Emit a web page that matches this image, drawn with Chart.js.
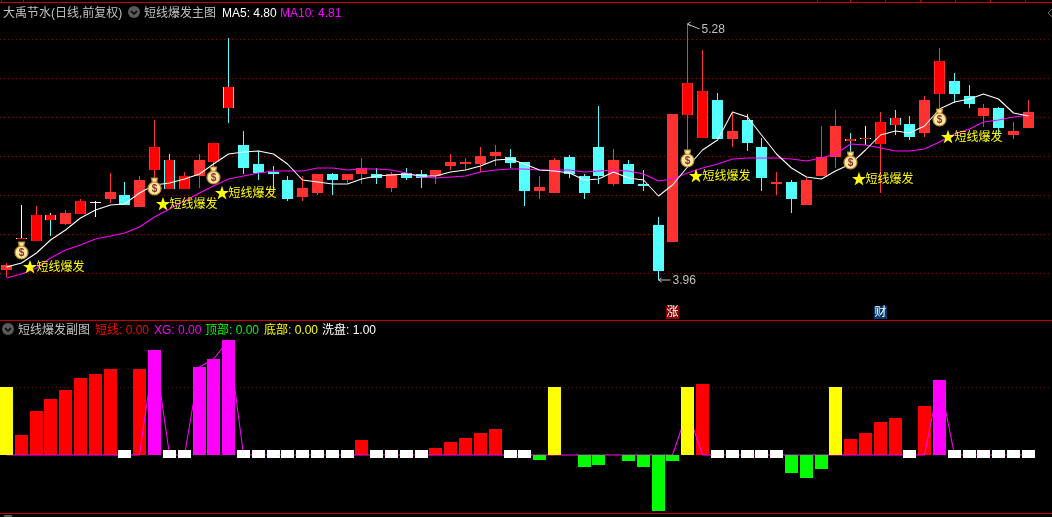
<!DOCTYPE html>
<html>
<head>
<meta charset="utf-8">
<title>短线爆发</title>
<script src="https://cdn.jsdelivr.net/npm/chart.js@4"></script>
<style>
    html, body { margin: 0; padding: 0; background: #000; overflow: hidden; }
    #page { position: relative; width: 1052px; height: 517px; overflow: hidden; font: 12px/14px "Liberation Sans", "Noto Sans CJK SC", sans-serif; }
    canvas { position: absolute; left: 0; }
    #mainChart { top: 0; }
    #subChart { top: 322px; }
    .rule { position: absolute; left: 0; width: 1052px; height: 1px; background: #c00000; }
    .mark { position: absolute; top: 0; width: 1px; height: 2px; background: #c00000; }
    .txt { position: absolute; white-space: nowrap; }
    svg { position: absolute; }
</style>
</head>
<body>
<div id="page">
    <canvas id="mainChart" width="1052" height="320"></canvas>
    <canvas id="subChart" width="1052" height="190"></canvas>
    <div class="rule" style="top:2px"></div>
    <div class="rule" style="top:320px"></div>
    <div class="rule" style="top:513px"></div>

    <span class="txt" style="left:3px;top:6px;color:#c0c0c0">大禹节水(日线,前复权)</span>
    <svg style="left:127px;top:5px" width="14" height="14"><circle cx="7" cy="7" r="6" fill="#5a5a5a"/><path d="M4 6 L7 9 L10 6" stroke="#000" stroke-width="1.5" fill="none"/></svg>
    <span class="txt" style="left:144px;top:6px;color:#c0c0c0">短线爆发主图</span>
    <span class="txt" style="left:222px;top:6px;color:#fff">MA5: 4.80</span>
    <span class="txt" style="left:280px;top:6px;color:#f0f">MA10: 4.81</span>

    <svg style="left:1px;top:322px" width="14" height="14"><circle cx="7" cy="7" r="6" fill="#5a5a5a"/><path d="M4 6 L7 9 L10 6" stroke="#000" stroke-width="1.5" fill="none"/></svg>
    <span class="txt" style="left:18px;top:323px;color:#c0c0c0">短线爆发副图</span>
    <span class="txt" style="left:95px;top:323px;color:#f00">短线: 0.00</span>
    <span class="txt" style="left:154px;top:323px;color:#f0f">XG: 0.00</span>
    <span class="txt" style="left:205px;top:323px;color:#0f0">顶部: 0.00</span>
    <span class="txt" style="left:264px;top:323px;color:#ff0">底部: 0.00</span>
    <span class="txt" style="left:322px;top:323px;color:#fff">洗盘: 1.00</span>

    <svg style="left:1046px;top:8px" width="6" height="10"><path d="M6 1 L2 5 L6 9" stroke="#666" fill="none"/></svg>
    <svg style="left:4px;top:515px" width="10" height="2"><rect width="8" height="2" fill="#5a5a5a"/></svg>
</div>

<script>
// candles
const openPrice = [
    4.015, 4.17, 4.16, 4.295, 4.25, 4.30, 4.36, 4.38, 4.40, 4.335,
    4.53, 4.58, 4.43, 4.495, 4.57, 4.955, 4.655, 4.56, 4.52, 4.475,
    4.39, 4.41, 4.505, 4.475, 4.505, 4.505, 4.435, 4.51, 4.505, 4.495,
    4.55, 4.56, 4.56, 4.60, 4.595, 4.57, 4.42, 4.41, 4.595, 4.495,
    4.645, 4.455, 4.56, 4.455, 4.245, 4.155, 4.81, 4.695, 4.89, 4.69,
    4.785, 4.645, 4.455, 4.465, 4.35, 4.495, 4.595, 4.69, 4.69, 4.66,
    4.795, 4.765, 4.72, 4.92, 4.985, 4.91, 4.805, 4.845, 4.71, 4.745
];
const closePrice = [
    4.04, 4.17, 4.295, 4.27, 4.305, 4.37, 4.36, 4.415, 4.35, 4.475,
    4.645, 4.43, 4.495, 4.58, 4.665, 4.845, 4.54, 4.51, 4.505, 4.38,
    4.435, 4.505, 4.475, 4.505, 4.54, 4.485, 4.505, 4.485, 4.485, 4.53,
    4.57, 4.57, 4.60, 4.62, 4.565, 4.42, 4.44, 4.58, 4.505, 4.41,
    4.495, 4.58, 4.455, 4.445, 4.01, 4.815, 4.975, 4.935, 4.69, 4.73,
    4.665, 4.485, 4.465, 4.38, 4.475, 4.595, 4.755, 4.675, 4.69, 4.775,
    4.76, 4.70, 4.89, 5.09, 4.92, 4.87, 4.845, 4.745, 4.73, 4.825
];
const highPrice = [
    4.05, 4.35, 4.34, 4.305, 4.32, 4.38, 4.37, 4.51, 4.465, 4.495,
    4.785, 4.61, 4.52, 4.61, 4.665, 5.21, 4.73, 4.625, 4.55, 4.495,
    4.495, 4.505, 4.51, 4.505, 4.59, 4.54, 4.52, 4.54, 4.53, 4.53,
    4.61, 4.59, 4.645, 4.655, 4.635, 4.57, 4.495, 4.59, 4.605, 4.505,
    4.86, 4.635, 4.58, 4.53, 4.285, 4.815, 5.28, 5.145, 4.925, 4.82,
    4.815, 4.695, 4.52, 4.475, 4.485, 4.755, 4.835, 4.72, 4.755, 4.825,
    4.835, 4.805, 4.91, 5.155, 5.03, 4.965, 4.87, 4.85, 4.775, 4.89
];
const lowPrice = [
    3.975, 4.17, 4.16, 4.19, 4.245, 4.30, 4.285, 4.36, 4.35, 4.335,
    4.475, 4.43, 4.43, 4.435, 4.53, 4.77, 4.505, 4.475, 4.42, 4.37,
    4.37, 4.40, 4.40, 4.46, 4.455, 4.455, 4.415, 4.475, 4.435, 4.455,
    4.53, 4.53, 4.52, 4.55, 4.54, 4.34, 4.38, 4.41, 4.485, 4.38,
    4.455, 4.445, 4.455, 4.42, 3.96, 4.155, 4.63, 4.695, 4.69, 4.645,
    4.625, 4.42, 4.40, 4.305, 4.35, 4.495, 4.54, 4.62, 4.655, 4.41,
    4.71, 4.68, 4.70, 4.845, 4.875, 4.845, 4.75, 4.71, 4.69, 4.745
];
const ma5 = [
    4.029, 4.051, 4.103, 4.166, 4.218, 4.283, 4.324, 4.346, 4.355, 4.410,
    4.449, 4.461, 4.484, 4.506, 4.561, 4.609, 4.619, 4.626, 4.612, 4.561,
    4.475, 4.467, 4.458, 4.458, 4.484, 4.497, 4.504, 4.506, 4.497, 4.499,
    4.516, 4.527, 4.547, 4.581, 4.587, 4.557, 4.527, 4.525, 4.513, 4.475,
    4.484, 4.516, 4.487, 4.475, 4.396, 4.453, 4.544, 4.633, 4.684, 4.828,
    4.801, 4.707, 4.609, 4.539, 4.492, 4.479, 4.521, 4.561, 4.630, 4.707,
    4.729, 4.719, 4.753, 4.844, 4.878, 4.895, 4.921, 4.895, 4.822, 4.804
];
const ma10 = [
    3.974, 3.991, 4.021, 4.077, 4.115, 4.141, 4.170, 4.190, 4.206, 4.235,
    4.286, 4.329, 4.367, 4.407, 4.444, 4.480, 4.497, 4.515, 4.525, 4.525,
    4.525, 4.539, 4.539, 4.527, 4.535, 4.535, 4.527, 4.515, 4.492, 4.489,
    4.494, 4.499, 4.516, 4.530, 4.535, 4.535, 4.527, 4.527, 4.527, 4.520,
    4.525, 4.530, 4.523, 4.506, 4.473, 4.484, 4.515, 4.539, 4.561, 4.585,
    4.592, 4.592, 4.592, 4.587, 4.576, 4.588, 4.609, 4.660, 4.655, 4.640,
    4.628, 4.628, 4.636, 4.672, 4.715, 4.741, 4.774, 4.787, 4.801, 4.810
];
const gridPrices = [5.2, 5.0, 4.8, 4.6, 4.4, 4.2, 4.0];

// sessions where the main picture paints the body pure red
const redDays = [1, 2, 3, 5, 10, 11, 12, 14, 15, 46, 47, 57, 58, 59, 60, 63];
// signals: money bag and star label
const bagDays = [1, 10, 14, 46, 57, 63];
const bagPrices = [4.115, 4.444, 4.50, 4.592, 4.581, 4.801];
const starPrices = [4.029, 4.353, 4.41, 4.496, 4.484, 4.696];
const starGlyph = "★";
const starLabel = "短线爆发";
// corner badges
const badgeDays = [45, 59];
const badgeLabels = ["涨", "财"];
const badgeColors = ["#8a0000", "#003a70"];

// lower panel
const N = null;
const shortLine = [
    N, 29, 64, 82, 95, 113, 119, 126, N, 126,
    N, N, N, N, N, N, N, N, N, N,
    N, N, N, N, 22, N, N, N, N, 11,
    19, 25, 32, 38, N, N, N, N, N, N,
    N, N, N, N, N, N, N, 105, N, N,
    N, N, N, N, N, N, N, 23, 32, 48,
    55, N, 72, N, N, N, N, N, N, N
];
const xgBars = [
    N, N, N, N, N, N, N, N, N, N,
    154, N, N, 130, 141, 169, N, N, N, N,
    N, N, N, N, N, N, N, N, N, N,
    N, N, N, N, N, N, N, N, N, N,
    N, N, N, N, N, N, N, N, N, N,
    N, N, N, N, N, N, N, N, N, N,
    N, N, N, 111, N, N, N, N, N, N
];
const bottomBars = [
    100, N, N, N, N, N, N, N, N, N,
    N, N, N, N, N, N, N, N, N, N,
    N, N, N, N, N, N, N, N, N, N,
    N, N, N, N, N, N, N, 100, N, N,
    N, N, N, N, N, N, 100, N, N, N,
    N, N, N, N, N, N, 100, N, N, N,
    N, N, N, N, N, N, N, N, N, N
];
const topBars = [
    N, N, N, N, N, N, N, N, N, N,
    N, N, N, N, N, N, N, N, N, N,
    N, N, N, N, N, N, N, N, N, N,
    N, N, N, N, N, N, -7, N, N, -17,
    -15, N, -9, -17, -83, -9, N, N, N, N,
    N, N, N, -27, -34, -21, N, N, N, N,
    N, N, N, N, N, N, N, N, N, N
];
const xgLine = [
    0, 0, 0, 0, 0, 0, 0, 0, 0, 0,
    154, 0, 0, 130, 141, 169, 0, 0, 0, 0,
    0, 0, 0, 0, 0, 0, 0, 0, 0, 0,
    0, 0, 0, 0, 0, 0, 0, 0, 0, 0,
    0, 0, 0, 0, 0, 0, 65, 0, 0, 0,
    0, 0, 0, 0, 0, 0, 0, 0, 0, 0,
    0, 0, 0, 111, 0, 0, 0, 0, 0, 0
];
const washDays = [8, 11, 12, 16, 17, 18, 19, 20, 21, 22, 23, 25, 26, 27, 28, 34, 35, 48, 49, 50, 51, 52, 61, 64, 65, 66, 67, 68, 69];
const washBand = [-5, 7];
const subGrid = [100];

const topMarks = [1, 23, 817, 850, 885, 920, 955, 990, 1025];

const UP = "#ff3232", DOWN = "#54ffff", DOJI = "#ffffff", SIGNAL = "#ff0000";
const FONT = '12px "Liberation Sans", "Noto Sans CJK SC", sans-serif';
const sessions = openPrice.map((_, i) => i);

topMarks.forEach((x) => {
    const el = document.createElement("div");
    el.className = "mark";
    el.style.left = x + "px";
    document.getElementById("page").appendChild(el);
});

function candleColor(i) {
    if (openPrice[i] === closePrice[i]) return DOJI;
    return closePrice[i] > openPrice[i] ? UP : DOWN;
}

// keeps candles on whole pixels like the terminal does
const snapX = (scale) => {
    const base = Object.getPrototypeOf(scale).getPixelForValue;
    scale.getPixelForValue = function (v) { return Math.floor(base.call(this, v)) + 0.5; };
};
const snapY = (scale) => {
    const base = Object.getPrototypeOf(scale).getPixelForValue;
    scale.getPixelForValue = function (v) { return Math.round(base.call(this, v)); };
};

function xAxis() {
    return { type: "linear", display: false, offset: false, min: -0.4389, max: 70.594, afterUpdate: snapX };
}

function yAxis(min, max, ticks, color) {
    return {
        min,
        max,
        afterBuildTicks: (scale) => { scale.ticks = ticks.map((value) => ({ value })); },
        afterUpdate: snapY,
        ticks: { display: false },
        grid: { color, lineWidth: 1, drawTicks: false },
        border: { display: false, dash: [1, 3] },
    };
}

const barBase = { type: "bar", grouped: false, inflateAmount: 0, borderWidth: 0 };
const lineBase = { type: "line", borderWidth: 1.05, borderJoinStyle: "bevel", pointRadius: 0 };

function drawBag(ctx, x, y) {
    ctx.fillStyle = "#ffe9a0";
    ctx.strokeStyle = "#c08a28";
    ctx.lineWidth = 1.2;
    ctx.beginPath();
    ctx.moveTo(x - 3, y - 8);
    ctx.lineTo(x + 3, y - 8);
    ctx.lineTo(x + 2, y - 3);
    ctx.lineTo(x - 2, y - 3);
    ctx.closePath();
    ctx.fill();
    ctx.stroke();
    ctx.beginPath();
    ctx.arc(x, y + 2.5, 6.5, 0, Math.PI * 2);
    ctx.fill();
    ctx.stroke();
    ctx.fillStyle = "#8a3030";
    ctx.font = 'bold 10px "Liberation Sans"';
    ctx.textAlign = "center";
    ctx.textBaseline = "middle";
    ctx.fillText("$", x, y + 3);
    ctx.textAlign = "left";
}

function drawPointer(ctx, x, y, endX, endY, label) {
    ctx.strokeStyle = "#c0c0c0";
    ctx.lineWidth = 1;
    ctx.beginPath();
    ctx.moveTo(x, y);
    ctx.lineTo(endX, endY);
    ctx.moveTo(x + 3, y - 2);
    ctx.lineTo(x, y);
    ctx.lineTo(x + 3, y + 2);
    ctx.stroke();
    ctx.fillStyle = "#c0c0c0";
    ctx.font = FONT;
    ctx.textBaseline = "middle";
    ctx.fillText(label, endX + 2, endY + 1);
}

const mainMarks = {
    id: "mainMarks",
    afterDatasetsDraw(chart) {
        const { ctx, scales: { x, y } } = chart;
        ctx.save();
        ctx.textBaseline = "middle";
        bagDays.forEach((day, i) => {
            const px = x.getPixelForValue(day);
            drawBag(ctx, px, y.getPixelForValue(bagPrices[i]));
            const py = y.getPixelForValue(starPrices[i]) + 1;
            ctx.fillStyle = "#ffff00";
            ctx.textBaseline = "middle";
            ctx.font = '15px "Noto Sans CJK SC"';
            ctx.fillText(starGlyph, px + 1, py - 2);
            ctx.font = FONT;
            ctx.fillText(starLabel, px + 15, py);
        });
        const hx = x.getPixelForValue(46), hy = y.getPixelForValue(5.28);
        drawPointer(ctx, hx, hy, hx + 12, hy + 5, "5.28");
        const lx = x.getPixelForValue(44), ly = y.getPixelForValue(3.96);
        drawPointer(ctx, lx, ly, lx + 12, ly, "3.96");
        badgeDays.forEach((day, i) => {
            const bx = x.getPixelForValue(day);
            ctx.fillStyle = badgeColors[i];
            ctx.fillRect(bx - 6.5, 306, 13, 13);
            ctx.fillStyle = "#ffffff";
            ctx.font = FONT;
            ctx.textAlign = "center";
            ctx.fillText(badgeLabels[i], bx, 313);
            ctx.textAlign = "left";
        });
        ctx.restore();
    },
};

new Chart(document.getElementById("mainChart"), {
    data: {
        labels: sessions,
        datasets: [
            { ...lineBase, data: ma5, borderColor: "#ffffff", order: 1 },
            { ...lineBase, data: ma10, borderColor: "#ff00ff", order: 2 },
            {
                ...barBase,
                data: sessions.map((i) => (redDays.includes(i) ? [openPrice[i], closePrice[i]] : null)),
                backgroundColor: SIGNAL,
                barThickness: 9,
                minBarLength: 1,
                order: 3,
            },
            {
                ...barBase,
                data: sessions.map((i) => [openPrice[i], closePrice[i]]),
                backgroundColor: sessions.map(candleColor),
                barThickness: 11,
                minBarLength: 1,
                order: 4,
            },
            {
                ...barBase,
                data: sessions.map((i) => [lowPrice[i], highPrice[i]]),
                backgroundColor: sessions.map(candleColor),
                barThickness: 1,
                order: 5,
            },
        ],
    },
    options: {
        responsive: false,
        animation: false,
        devicePixelRatio: 1,
        events: [],
        layout: { padding: 0 },
        plugins: { legend: { display: false }, tooltip: { enabled: false } },
        scales: { x: xAxis(), y: yAxis(3.7554, 5.4034, gridPrices, "#800000") },
    },
    plugins: [mainMarks],
});

new Chart(document.getElementById("subChart"), {
    data: {
        labels: sessions,
        datasets: [
            { ...barBase, data: topBars, backgroundColor: "#00ff00", barThickness: 13, order: 1 },
            { ...barBase, data: sessions.map((i) => (washDays.includes(i) ? washBand : null)), backgroundColor: "#ffffff", barThickness: 13, order: 2 },
            { ...barBase, data: bottomBars, backgroundColor: "#ffff00", barThickness: 13, order: 3 },
            { ...barBase, data: xgBars, backgroundColor: "#ff00ff", barThickness: 13, order: 4 },
            { ...lineBase, data: xgLine, borderColor: "#ff00ff", order: 5 },
            { ...barBase, data: shortLine, backgroundColor: "#ff0000", barThickness: 13, order: 6 },
        ],
    },
    options: {
        responsive: false,
        animation: false,
        devicePixelRatio: 1,
        events: [],
        layout: { padding: 0 },
        plugins: { legend: { display: false }, tooltip: { enabled: false } },
        scales: { x: xAxis(), y: yAxis(-83.8, 195.6, subGrid, "#5a1010") },
    },
});
</script>
</body>
</html>
